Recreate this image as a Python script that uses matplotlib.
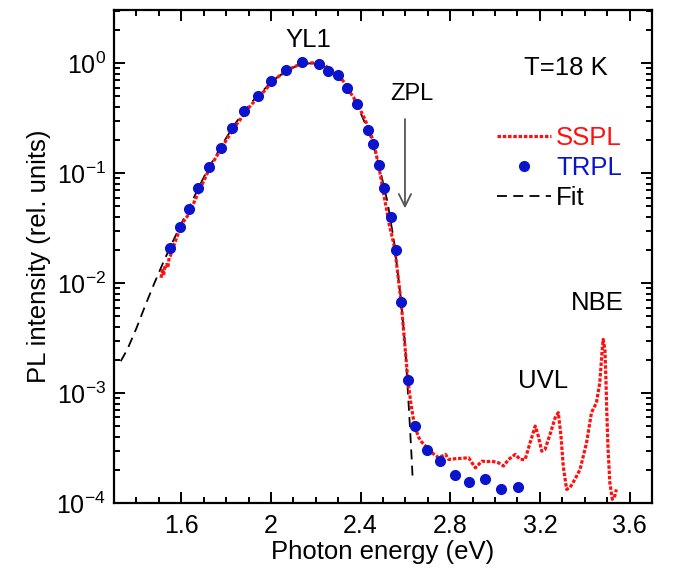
import matplotlib
matplotlib.use("Agg")
import matplotlib.pyplot as plt
import numpy as np

plt.rcParams['font.family'] = ['Liberation Sans', 'DejaVu Sans']
plt.rcParams['mathtext.fontset'] = 'custom'
plt.rcParams['mathtext.rm'] = 'Liberation Sans'
plt.rcParams['mathtext.it'] = 'Liberation Sans'
plt.rcParams['axes.unicode_minus'] = False

# ---- data ----
trpl_x = [1.552, 1.593, 1.633, 1.676, 1.724, 1.776, 1.826, 1.881, 1.941, 2.002,
          2.069, 2.139, 2.214, 2.254, 2.299, 2.339, 2.383, 2.433, 2.457, 2.482,
          2.504, 2.534, 2.556, 2.581, 2.611, 2.641, 2.697, 2.756, 2.821, 2.884,
          2.955, 3.028, 3.101]
trpl_y = [2.10e-2, 3.24e-2, 4.76e-2, 7.33e-2, 0.113, 0.170, 0.260, 0.366, 0.501, 0.696,
          0.869, 1.02, 0.994, 0.858, 0.778, 0.592, 0.424, 0.246, 0.186, 0.120,
          7.29e-2, 4.03e-2, 1.99e-2, 6.73e-3, 1.31e-3, 5.01e-4, 3.01e-4, 2.39e-4, 1.78e-4, 1.55e-4,
          1.66e-4, 1.34e-4, 1.39e-4]

sspl_x = [1.510, 1.516, 1.521, 1.527, 1.534, 1.540, 1.546, 1.552, 1.560, 1.570,
          1.579, 1.590, 1.610, 1.638, 1.660, 1.682, 1.705, 1.727, 1.756, 1.786,
          1.810, 1.830, 1.860, 1.890, 1.920, 1.949, 1.980, 2.008, 2.040, 2.068,
          2.100, 2.127, 2.156, 2.186, 2.215, 2.245, 2.275, 2.304, 2.330, 2.349,
          2.372, 2.393, 2.415, 2.438, 2.455, 2.468, 2.482, 2.494, 2.504, 2.516,
          2.527, 2.540, 2.553, 2.567, 2.581, 2.596, 2.611, 2.626, 2.641, 2.660,
          2.672, 2.690, 2.719, 2.749, 2.779, 2.793, 2.823, 2.850, 2.882, 2.912,
          2.941, 2.965, 2.986, 3.016, 3.038, 3.060, 3.090, 3.112, 3.134, 3.156,
          3.179, 3.193, 3.208, 3.223, 3.245, 3.268, 3.282, 3.294, 3.304, 3.319,
          3.334, 3.356, 3.379, 3.408, 3.430, 3.452, 3.467, 3.478, 3.482, 3.490,
          3.494, 3.498, 3.504, 3.512, 3.523, 3.534, 3.541]
sspl_y = [1.12e-2, 1.35e-2, 1.18e-2, 1.41e-2, 1.48e-2, 1.38e-2, 1.70e-2, 1.78e-2, 2.04e-2, 2.29e-2,
          2.57e-2, 2.95e-2, 3.63e-2, 4.37e-2, 5.62e-2, 7.08e-2, 8.91e-2, 0.112, 0.141, 0.178,
          0.214, 0.251, 0.302, 0.372, 0.437, 0.501, 0.589, 0.692, 0.776, 0.851,
          0.923, 0.977, 1.000, 1.012, 0.989, 0.944, 0.861, 0.766, 0.661, 0.562,
          0.479, 0.398, 0.324, 0.251, 0.200, 0.155, 0.112, 8.32e-2, 6.31e-2, 4.68e-2,
          3.47e-2, 2.69e-2, 2.04e-2, 1.16e-2, 6.73e-3, 2.97e-3, 1.31e-3, 7.62e-4, 5.01e-4, 3.93e-4,
          3.60e-4, 3.30e-4, 2.86e-4, 2.58e-4, 2.77e-4, 2.49e-4, 2.53e-4, 2.55e-4, 2.58e-4, 2.09e-4,
          2.40e-4, 2.38e-4, 2.40e-4, 2.32e-4, 2.17e-4, 2.49e-4, 2.77e-4, 2.49e-4, 2.49e-4, 3.53e-4,
          5.01e-4, 4.06e-4, 2.96e-4, 3.08e-4, 4.21e-4, 5.97e-4, 6.64e-4, 4.06e-4, 2.17e-4, 1.33e-4,
          1.38e-4, 1.64e-4, 2.02e-4, 3.53e-4, 6.64e-4, 8.17e-4, 1.24e-3, 2.50e-3, 3.08e-3, 2.50e-3,
          1.43e-3, 7.11e-4, 3.08e-4, 1.53e-4, 1.08e-4, 1.16e-4, 1.33e-4]

fit_x = [1.33, 1.36, 1.40, 1.44, 1.48, 1.52, 1.56, 1.60, 1.64, 1.68,
         1.72, 1.76, 1.80, 1.84, 1.88, 1.92, 1.96, 2.00, 2.04, 2.08,
         2.12, 2.16, 2.20, 2.24, 2.28, 2.32, 2.36, 2.40, 2.44, 2.48,
         2.52, 2.55, 2.58, 2.60, 2.61, 2.62, 2.628, 2.633]
fit_y = [1.95e-3, 2.51e-3, 3.89e-3, 6.31e-3, 1.00e-2, 1.55e-2, 2.34e-2, 3.47e-2, 5.13e-2, 7.59e-2,
         0.110, 0.151, 0.209, 0.282, 0.363, 0.457, 0.550, 0.676, 0.776, 0.881,
         0.955, 1.0, 1.0, 0.933, 0.813, 0.676, 0.513, 0.355, 0.229, 0.123,
         5.50e-2, 2.34e-2, 7.08e-3, 2.51e-3, 1.12e-3, 5.01e-4, 2.51e-4, 1.58e-4]

x_ticks = [1.6, 2.0, 2.4, 2.8, 3.2, 3.6]
x_tick_labels = ['1.6', '2', '2.4', '2.8', '3.2', '3.6']

# ---- figure ----
fig = plt.figure(figsize=(6.76, 5.69), dpi=100)
ax = fig.add_axes([114/676, 66/569, 538/676, 493/569])

ax.plot(fit_x, fit_y, color='black', lw=1.3, linestyle=(0, (5.5, 3.5)), label='Fit', zorder=2)
ax.plot(sspl_x, sspl_y, color='#ff1010', lw=2.3, linestyle=(0, (1.1, 0.55)), label='SSPL', zorder=3)
ax.plot(trpl_x, trpl_y, linestyle='none', marker='o', ms=7, color='#0a14cc', label='TRPL', zorder=4)

ax.set_yscale('log')
ax.set_xlim(1.3, 3.693)
ax.set_ylim(1e-4, 3.06)
ax.set_xticks(x_ticks)
ax.set_xticklabels(x_tick_labels)
ax.set_xticks(np.arange(1.3, 3.71, 0.1), minor=True)

for s in ax.spines.values():
    s.set_linewidth(1.6)
ax.tick_params(which='both', direction='in', top=True, right=True, width=1.4)
ax.tick_params(which='major', length=8, labelsize=18)
ax.tick_params(which='minor', length=4)
ax.tick_params(axis='x', pad=8)
ax.tick_params(axis='y', pad=6)

ax.set_xlabel('Photon energy (eV)', fontsize=18.5, labelpad=1)
ax.set_ylabel('PL intensity (rel. units)', fontsize=18.5, labelpad=4)

ax.text(2.165, 1.63, 'YL1', fontsize=18.5, ha='center', va='center')
ax.text(3.316, 0.914, 'T=18 K', fontsize=18.5, ha='center', va='center')
ax.text(2.631, 0.522, 'ZPL', fontsize=17, ha='center', va='center')
ax.text(3.456, 6.65e-3, 'NBE', fontsize=18.5, ha='center', va='center')
ax.text(3.212, 1.29e-3, 'UVL', fontsize=18.5, ha='center', va='center')
ax.annotate('', xy=(2.598, 0.0453), xytext=(2.598, 0.33),
            arrowprops=dict(arrowstyle='->', color='#555555', lw=1.3,
                            mutation_scale=22))

handles, labels = ax.get_legend_handles_labels()
order = [1, 2, 0]
leg = ax.legend([handles[i] for i in order], [labels[i] for i in order],
                loc='upper left', bbox_to_anchor=(0.712, 0.765), frameon=False,
                fontsize=18.5, handlelength=2.1, handletextpad=0.2,
                labelspacing=0.23, borderpad=0, borderaxespad=0,
                labelcolor=['#ff1010', '#0a14cc', 'black'])

fig.savefig('out.png', dpi=100)
